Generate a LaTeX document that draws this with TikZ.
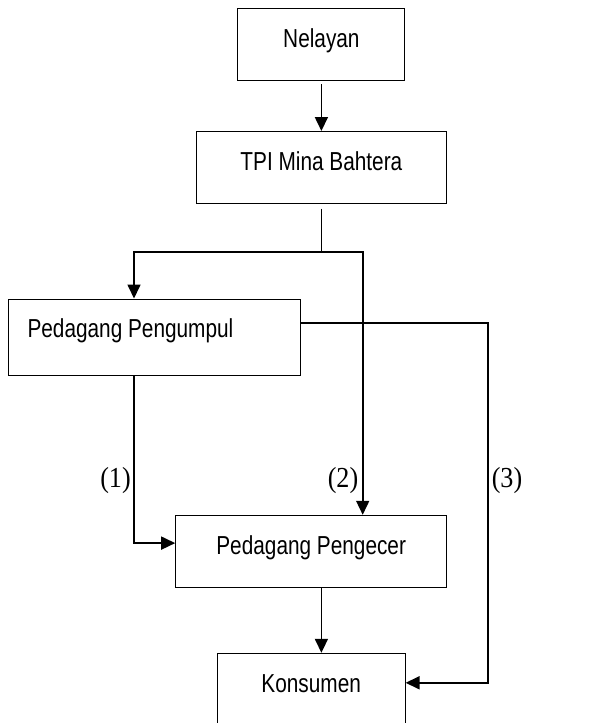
\documentclass[tikz,border=0pt]{standalone}
\usepackage{fontspec}
\setmainfont{Liberation Sans}
\newfontfamily\boxfont[FakeStretch=0.8]{Liberation Sans}
\newfontfamily\numfont[FakeStretch=0.9]{Liberation Serif}
\usepackage{tikz}
\usetikzlibrary{positioning, calc, arrows.meta}

\tikzset{
  box/.style={draw, line width=0.5pt, rectangle, inner xsep=0pt, inner ysep=0pt,
    text height=19.5pt, text depth=16.5pt, font=\boxfont\fontsize{13}{15}\selectfont},
  arr/.style={line width=0.85pt, -{Triangle[length=7pt, width=6.5pt]}},
  lbl/.style={inner sep=0pt, font=\numfont\fontsize{14.5}{16}\selectfont}
}

\begin{document}
\begin{tikzpicture}[x=0.5pt, y=-0.5pt]
    \useasboundingbox (0,0) rectangle (602,723);

    % ボックス
    \node[box, minimum width=83.5pt] (nelayan) at (321.4,44.5) {Nelayan};
    \node[box, minimum width=125.4pt] (tpi) at (321.4,167.5) {TPI Mina Bahtera};
    \node[box, text width=127pt, align=flush left, inner xsep=9.6pt, text height=19pt, text depth=19.4pt] (pengumpul) at (154.5,337.4) {Pedagang Pengumpul};
    \node[box, minimum width=135.5pt] (pengecer) at (311.2,551.3) {Pedagang Pengecer};
    \node[box, minimum width=93.9pt] (konsumen) at (311.2,689.3) {Konsumen};

    % 分岐点
    \coordinate (split) at (321.4,251.7);
    \coordinate (lt) at (134,251.7);
    \coordinate (rt) at (362.7,251.7);
    \coordinate (far) at (488.3,323.3);

    % 矢印
    \draw[arr, shorten <=1.65pt] (nelayan.south) -- (tpi.north);
    \draw[line width=0.45pt, shorten <=2.25pt] (tpi.south) -- (split);
    \draw[arr] (split) -| (lt |- pengumpul.north);
    \draw[arr] (split) -| (rt |- pengecer.north);
    \draw[arr] (lt |- pengumpul.south) |- ($(pengecer.north west)+(0,28.3)$);
    \draw[arr] (pengumpul.east |- far) -- (far) |- ($(konsumen.north east)+(0,30)$);
    \draw[arr] (pengecer.south -| nelayan.south) -- (konsumen.north -| nelayan.south);

    % ラベル
    \node[lbl] (l1) at (115.5,481) {(1)};
    \node[lbl] (l2) at (343,481) {(2)};
    \node[lbl] (l3) at (507,481) {(3)};

\end{tikzpicture}
\end{document}
